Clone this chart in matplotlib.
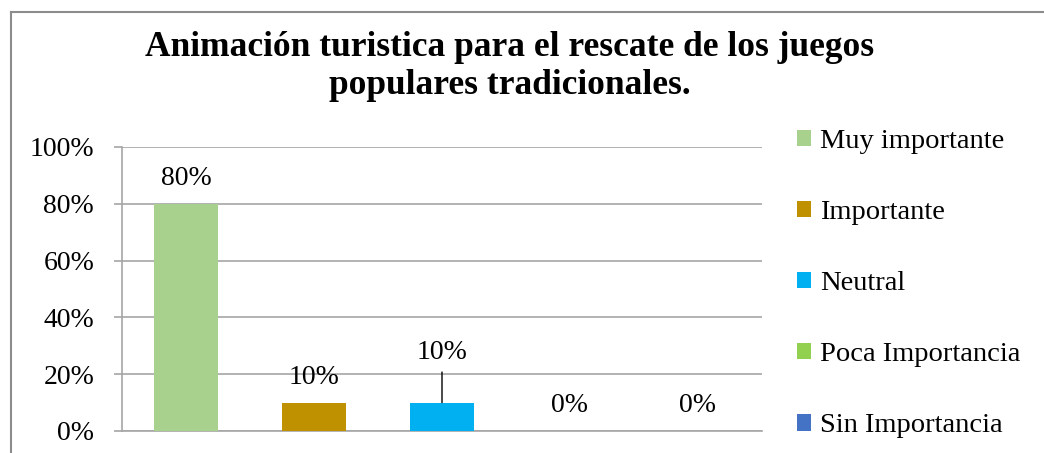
import matplotlib
matplotlib.use('Agg')
import matplotlib.pyplot as plt
from matplotlib.patches import Patch
from matplotlib.lines import Line2D
import numpy as np

###########
# data
categorias = ['Muy importante', 'Importante', 'Neutral', 'Poca Importancia', 'Sin Importancia']
valores = [0.80, 0.10, 0.10, 0.0, 0.0]
etiquetas = ['80%', '10%', '10%', '0%', '0%']
colores = ['#A9D18E', '#BF9000', '#00B0F0', '#92D050', '#4472C4']
yticks = [0, 0.2, 0.4, 0.6, 0.8, 1.0]
ytick_labels = ['0%', '20%', '40%', '60%', '80%', '100%']
titulo = 'Animación turistica para el rescate de los juegos\npopulares tradicionales.'
# data
###########

plt.rcParams['font.family'] = ['Liberation Serif', 'DejaVu Serif']

W, H = 1044, 453
fig = plt.figure(figsize=(W/100, H/100), dpi=100)

# axes placed in pixel units
ax = fig.add_axes([122/W, (H-431)/H, 640/W, 284/H])

x = np.arange(len(categorias))
ax.bar(x, valores, width=0.5, color=colores, zorder=3)
ax.set_xlim(-0.5, len(categorias)-0.5)
ax.set_ylim(0, 1.0)

ax.set_yticks(yticks)
ax.set_yticklabels(ytick_labels, fontsize=20)
ax.set_xticks([])
ax.tick_params(axis='y', length=6, width=1.2, color='#a6a6a6', pad=14)
ax.grid(axis='y', color='#a6a6a6', linewidth=1.2, zorder=0)
for s in ['top', 'right']:
    ax.spines[s].set_visible(False)
ax.spines['left'].set_color('#a6a6a6')
ax.spines['bottom'].set_color('#a6a6a6')
ax.spines['left'].set_linewidth(1.2)
ax.spines['bottom'].set_linewidth(1.2)

# data labels
for i, (v, lab) in enumerate(zip(valores, etiquetas)):
    if i == 2:
        # label moved up, with leader line
        ax.annotate(lab, xy=(i, v), xytext=(0, 36), textcoords='offset points',
                    ha='center', va='center', fontsize=20,
                    arrowprops=dict(arrowstyle='-', color='black', lw=1,
                                    shrinkA=3, shrinkB=0))
    else:
        ax.annotate(lab, xy=(i, v), xytext=(0, 18), textcoords='offset points',
                    ha='center', va='center', fontsize=20)

# legend
handles = [Patch(facecolor=c, edgecolor='none') for c in colores]
fig.legend(handles, categorias, loc='upper left', bbox_to_anchor=(797/W, 1-129/H),
           frameon=False, fontsize=20.5, labelspacing=1.62, handlelength=0.5,
           handleheight=0.5, handletextpad=0.3, borderpad=0, borderaxespad=0)

fig.text(510/W, 1-67/H, titulo, ha='center', va='center', fontsize=25.5,
         fontweight='bold', linespacing=1.2)

# chart border (only top and left visible)
fig.add_artist(Line2D([11/W, 11/W], [0, 1-12/H], transform=fig.transFigure,
                      color='#8c8c8c', lw=1.5))
fig.add_artist(Line2D([11/W, 1], [1-12/H, 1-12/H], transform=fig.transFigure,
                      color='#8c8c8c', lw=1.5))

fig.savefig('out.png', dpi=100)
